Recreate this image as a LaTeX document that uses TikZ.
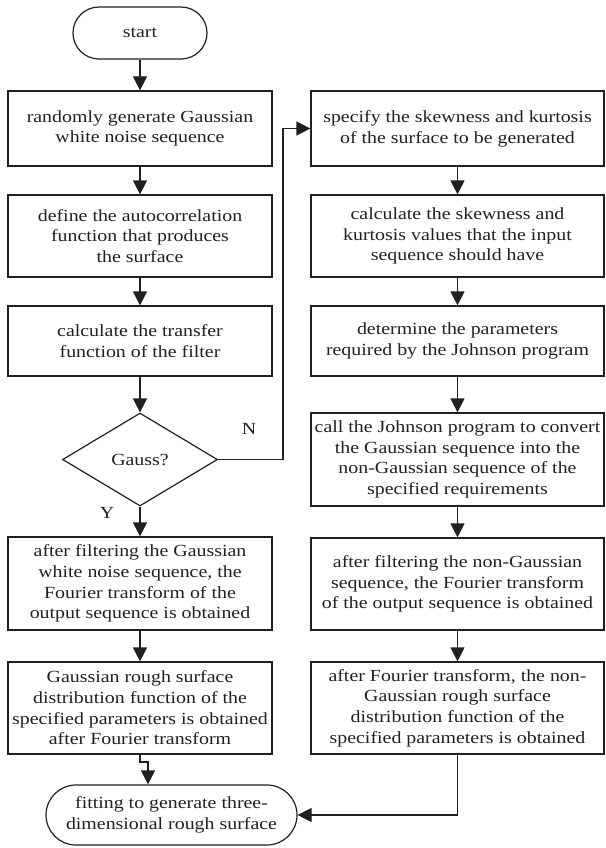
\documentclass[tikz,border=0pt]{standalone}
\usepackage{fontspec}
\setmainfont{Liberation Serif}[FakeStretch=1.17]
\usetikzlibrary{shapes.geometric,arrows.meta,calc}
\definecolor{ink}{HTML}{202020}
\begin{document}
\begin{tikzpicture}[x=1pt,y=-1pt,
  every node/.style={text=ink,font=\fontsize{17}{20.7}\selectfont},
  box/.style={draw=ink,line width=1.2pt,rectangle,align=center,inner sep=0pt},
  lbox/.style={box,minimum width=264pt},
  rbox/.style={box,minimum width=293pt},
  term/.style={draw=ink,line width=1.2pt,rectangle,rounded corners=26pt,align=center,inner sep=0pt},
  arr/.style={draw=ink,line width=1.2pt,-{Triangle[length=14pt,width=14pt]}},
  ln/.style={draw=ink,line width=1.2pt}]
\useasboundingbox (0,0) rectangle (605,848);
% left column
\node[term,minimum width=134pt,minimum height=52pt] (start) at (140,33) {start};
\node[lbox,minimum height=75pt] (b1) at (140,128.5) {randomly generate Gaussian\\white noise sequence};
\node[lbox,minimum height=82pt] (b2) at (140,236) {define the autocorrelation\\function that produces\\the surface};
\node[lbox,minimum height=70pt] (b3) at (140,341) {calculate the transfer\\function of the filter};
\node[draw=ink,line width=1.2pt,diamond,aspect=1.68,minimum width=155pt,minimum height=93pt,inner sep=0pt] (dia) at (140,459.5) {Gauss?};
\node[lbox,minimum height=93pt] (b4) at (140,583.5) {after filtering the Gaussian\\white noise sequence, the\\Fourier transform of the\\output sequence is obtained};
\node[lbox,minimum height=92pt] (b5) at (140,708) {Gaussian rough surface\\distribution function of the\\specified parameters is obtained\\after Fourier transform};
\node[term,minimum width=251pt,minimum height=60pt,rounded corners=30pt] (end) at (171.5,815) {fitting to generate three-\\dimensional rough surface};
% right column
\node[rbox,minimum height=75pt] (r1) at (457.5,128.5) {specify the skewness and kurtosis\\of the surface to be generated};
\node[rbox,minimum height=82pt] (r2) at (457.5,236) {calculate the skewness and\\kurtosis values that the input\\sequence should have};
\node[rbox,minimum height=70pt] (r3) at (457.5,341) {determine the parameters\\required by the Johnson program};
\node[rbox,minimum height=93pt] (r4) at (457.5,459.5) {call the Johnson program to convert\\the Gaussian sequence into the\\non-Gaussian sequence of the\\specified requirements};
\node[rbox,minimum height=92pt] (r5) at (457.5,584) {after filtering the non-Gaussian\\sequence, the Fourier transform\\of the output sequence is obtained};
\node[rbox,minimum height=92pt] (r6) at (457.5,708) {after Fourier transform, the non-\\Gaussian rough surface\\distribution function of the\\specified parameters is obtained};
% labels
\node (lN) at (249,429) {N};
\node (lY) at (107,513) {Y};
% connectors
\draw[arr] (start) -- (b1);
\draw[arr] (b1) -- (b2);
\draw[arr] (b2) -- (b3);
\draw[arr] (b3) -- (dia);
\draw[arr] (dia) -- (b4);
\draw[arr] (b4) -- (b5);
\draw[arr] (r1) -- (r2);
\draw[arr] (r2) -- (r3);
\draw[arr] (r3) -- (r4);
\draw[arr] (r4) -- (r5);
\draw[arr] (r5) -- (r6);
\coordinate (loopx) at (283,0);
\draw[arr] (dia.east) -- (dia.east -| loopx) -- (r1.west -| loopx) -- (r1.west);
\coordinate (j1) at (140,762);
\coordinate (j2) at (148,762);
\draw[arr] (b5.south) -- (j1) -- (j2) -- (j2 |- end.north);
\draw[arr] (r6.south) |- (end.east);
\end{tikzpicture}
\end{document}
